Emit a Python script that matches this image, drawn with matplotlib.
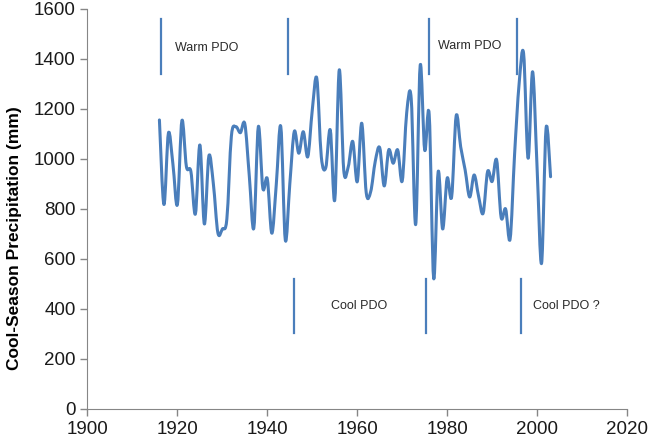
import numpy as np
import matplotlib
matplotlib.use('Agg')
import matplotlib.pyplot as plt
from matplotlib.path import Path
from matplotlib.patches import PathPatch

# cool-season precipitation, 1916-2003
years = list(range(1916, 2004))
precip = [1156, 818, 1103, 980, 818, 1153, 970, 950, 780, 1056,
          740, 1012, 900, 705, 720, 760, 1090, 1129, 1105, 1140,
          930, 724, 1129, 883, 920, 703, 900, 1129, 676, 900,
          1110, 1023, 1109, 1009, 1196, 1323, 1010, 965, 1116, 836,
          1356, 955, 969, 1070, 909, 1143, 865, 870, 990, 1045,
          892, 1036, 983, 1036, 912, 1185, 1242, 738, 1374, 1036,
          1178, 523, 949, 720, 923, 849, 1172, 1049, 956, 848,
          936, 850, 783, 950, 910, 996, 767, 800, 680, 1020,
          1300, 1422, 1003, 1349, 965, 583, 1123, 929]

# PDO phase boundaries
warm_marks = [1916.3, 1944.6, 1976.0, 1995.6]
cool_marks = [1945.9, 1975.3, 1996.4]
labels = [('Warm PDO', 1919.5, 1445), ('Warm PDO', 1978.0, 1450),
          ('Cool PDO', 1954.1, 410), ('Cool PDO ?', 1999.1, 410)]

blue = '#4A7EBB'
plt.rcParams['font.family'] = ['Liberation Sans', 'DejaVu Sans']

fig = plt.figure(figsize=(6.48, 4.46), dpi=100)
ax = fig.add_axes([0.135, 0.083, 0.8326, 0.8969])

# smoothed line like Excel (Catmull-Rom -> cubic bezier)
x = np.array(years, dtype=float)
y = np.array(precip, dtype=float)
px = np.concatenate([[x[0]], x, [x[-1]]])
py = np.concatenate([[y[0]], y, [y[-1]]])
verts = [(x[0], y[0])]
codes = [Path.MOVETO]
for i in range(1, len(px) - 2):
    c1 = (px[i] + (px[i + 1] - px[i - 1]) / 6, py[i] + (py[i + 1] - py[i - 1]) / 6)
    c2 = (px[i + 1] - (px[i + 2] - px[i]) / 6, py[i + 1] - (py[i + 2] - py[i]) / 6)
    verts += [c1, c2, (px[i + 1], py[i + 1])]
    codes += [Path.CURVE4] * 3
ax.add_patch(PathPatch(Path(verts, codes), fill=False, edgecolor=blue,
                       linewidth=2.2, capstyle='round', joinstyle='round'))

for m in warm_marks:
    ax.plot([m, m], [1340, 1560], color=blue, linewidth=1.6)
for m in cool_marks:
    ax.plot([m, m], [305, 520], color=blue, linewidth=1.6)
for txt, lx, ly in labels:
    ax.text(lx, ly, txt, fontsize=9, color='#2a2a2a', va='center', ha='left')

ax.set_xlim(1900, 2020)
ax.set_ylim(0, 1600)
ax.set_xticks(range(1900, 2021, 20))
ax.set_yticks(range(0, 1601, 200))
ax.tick_params(axis='both', labelsize=13.5, colors='#868686', labelcolor='#1a1a1a',
               length=5, width=1, direction='out')
for s in ['top', 'right']:
    ax.spines[s].set_visible(False)
for s in ['left', 'bottom']:
    ax.spines[s].set_color('#868686')
ax.set_ylabel('Cool-Season Precipitation (mm)', fontsize=12.5, fontweight='bold')
ax.yaxis.set_label_coords(-0.122, 0.4275)

fig.savefig('out.png', dpi=100)
